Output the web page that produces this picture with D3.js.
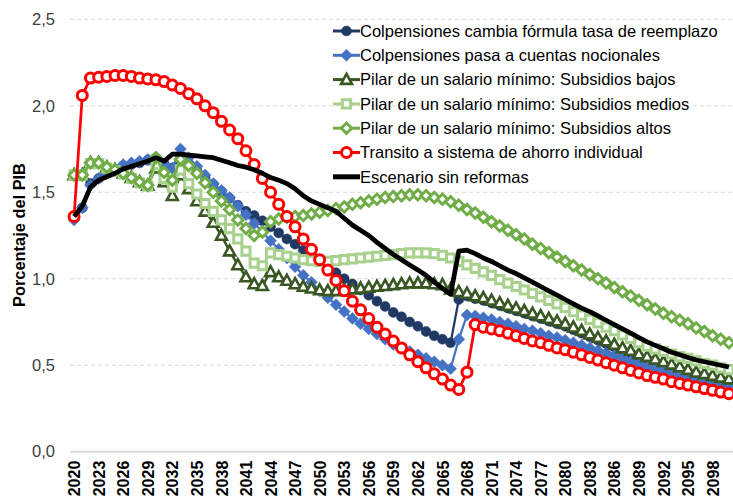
<!DOCTYPE html>
<html>
<head>
<meta charset="utf-8">
<script src="https://cdn.jsdelivr.net/npm/d3@7"></script>
<style>
  body { margin: 0; background: #fff; }
  svg { display: block; font-family: "Liberation Sans", Arial, sans-serif; }
</style>
</head>
<body>
<div id="chart"></div>
<script>
// years on the category axis, 2020 .. 2100
var years = d3.range(2020, 2101);
var xTickYears = [2020, 2023, 2026, 2029, 2032, 2035, 2038, 2041, 2044, 2047, 2050, 2053, 2056,
    2059, 2062, 2065, 2068, 2071, 2074, 2077, 2080, 2083, 2086, 2089, 2092, 2095, 2098];
var yTicks = [0, 0.5, 1, 1.5, 2, 2.5];

// series, % del PIB
var colpFormula = [
    1.35, 1.41, 1.55, 1.58, 1.61, 1.63, 1.65, 1.66, 1.67, 1.685,
    1.70, 1.665, 1.64, 1.70, 1.665, 1.625, 1.585, 1.545, 1.505, 1.465,
    1.425, 1.39, 1.365, 1.335, 1.30, 1.265, 1.23, 1.20, 1.165, 1.13,
    1.10, 1.065, 1.035, 1.00, 0.97, 0.935, 0.905, 0.87, 0.84, 0.805,
    0.78, 0.75, 0.725, 0.695, 0.67, 0.65, 0.63, 0.88, 0.90, 0.885,
    0.875, 0.86, 0.845, 0.83, 0.815, 0.80, 0.785, 0.77, 0.755, 0.74,
    0.725, 0.705, 0.685, 0.665, 0.645, 0.625, 0.605, 0.585, 0.57, 0.55,
    0.535, 0.52, 0.505, 0.49, 0.475, 0.46, 0.445, 0.435, 0.425, 0.415,
    0.405];
var colpNocionales = [
    1.34, 1.41, 1.54, 1.58, 1.61, 1.63, 1.66, 1.67, 1.68, 1.69,
    1.70, 1.66, 1.64, 1.75, 1.70, 1.65, 1.60, 1.55, 1.51, 1.47,
    1.42, 1.37, 1.32, 1.27, 1.22, 1.17, 1.12, 1.07, 1.02, 0.98,
    0.93, 0.89, 0.85, 0.81, 0.77, 0.74, 0.71, 0.68, 0.65, 0.62,
    0.60, 0.58, 0.56, 0.54, 0.52, 0.50, 0.48, 0.65, 0.79, 0.785,
    0.775, 0.765, 0.75, 0.74, 0.725, 0.71, 0.70, 0.685, 0.67, 0.66,
    0.645, 0.63, 0.615, 0.60, 0.585, 0.57, 0.555, 0.54, 0.52, 0.505,
    0.49, 0.48, 0.47, 0.455, 0.445, 0.435, 0.42, 0.41, 0.40, 0.39,
    0.38];
var pilarBajos = [
    1.60, 1.60, 1.67, 1.67, 1.645, 1.63, 1.61, 1.585, 1.56, 1.54,
    1.64, 1.56, 1.48, 1.60, 1.52, 1.45, 1.39, 1.325, 1.25, 1.16,
    1.08, 1.01, 0.97, 0.96, 1.04, 1.01, 0.99, 0.97, 0.955, 0.945,
    0.935, 0.93, 0.93, 0.935, 0.94, 0.945, 0.95, 0.955, 0.96, 0.965,
    0.97, 0.975, 0.975, 0.975, 0.97, 0.965, 0.94, 0.925, 0.915, 0.90,
    0.89, 0.875, 0.86, 0.845, 0.83, 0.815, 0.80, 0.785, 0.77, 0.755,
    0.74, 0.72, 0.70, 0.68, 0.66, 0.64, 0.62, 0.60, 0.585, 0.565,
    0.55, 0.535, 0.52, 0.505, 0.49, 0.475, 0.46, 0.45, 0.44, 0.43,
    0.42];
var pilarMedios = [
    1.60, 1.60, 1.665, 1.665, 1.64, 1.625, 1.605, 1.58, 1.555, 1.535,
    1.66, 1.58, 1.53, 1.63, 1.55, 1.49, 1.435, 1.39, 1.34, 1.29,
    1.23, 1.16, 1.09, 1.075, 1.15, 1.14, 1.13, 1.12, 1.11, 1.105,
    1.10, 1.10, 1.105, 1.11, 1.115, 1.12, 1.125, 1.13, 1.135, 1.14,
    1.145, 1.15, 1.15, 1.15, 1.145, 1.135, 1.12, 1.10, 1.08, 1.06,
    1.04, 1.02, 0.995, 0.975, 0.955, 0.935, 0.915, 0.895, 0.875, 0.855,
    0.835, 0.81, 0.79, 0.765, 0.745, 0.72, 0.70, 0.675, 0.655, 0.63,
    0.61, 0.595, 0.58, 0.565, 0.55, 0.54, 0.525, 0.51, 0.50, 0.485,
    0.475];
var pilarAltos = [
    1.60, 1.60, 1.67, 1.67, 1.645, 1.63, 1.61, 1.585, 1.56, 1.54,
    1.70, 1.615, 1.57, 1.69, 1.655, 1.61, 1.555, 1.50, 1.45, 1.40,
    1.34, 1.29, 1.25, 1.27, 1.33, 1.345, 1.355, 1.36, 1.365, 1.375,
    1.385, 1.395, 1.405, 1.415, 1.43, 1.44, 1.45, 1.46, 1.47, 1.475,
    1.48, 1.485, 1.485, 1.48, 1.47, 1.46, 1.445, 1.425, 1.40, 1.38,
    1.355, 1.33, 1.305, 1.28, 1.255, 1.23, 1.20, 1.175, 1.15, 1.125,
    1.10, 1.075, 1.05, 1.025, 1.00, 0.975, 0.95, 0.925, 0.90, 0.875,
    0.85, 0.825, 0.80, 0.78, 0.76, 0.74, 0.715, 0.695, 0.67, 0.65,
    0.63];
var transito = [
    1.36, 2.06, 2.16, 2.165, 2.17, 2.175, 2.175, 2.17, 2.16, 2.155,
    2.15, 2.14, 2.12, 2.10, 2.07, 2.04, 2.00, 1.96, 1.91, 1.86,
    1.81, 1.74, 1.66, 1.58, 1.50, 1.43, 1.36, 1.30, 1.23, 1.17,
    1.11, 1.05, 0.99, 0.93, 0.87, 0.82, 0.77, 0.72, 0.68, 0.64,
    0.60, 0.56, 0.52, 0.485, 0.45, 0.42, 0.385, 0.36, 0.46, 0.735,
    0.72, 0.71, 0.70, 0.685, 0.67, 0.655, 0.64, 0.63, 0.615, 0.60,
    0.59, 0.575, 0.56, 0.545, 0.53, 0.515, 0.50, 0.485, 0.47, 0.455,
    0.44, 0.43, 0.42, 0.405, 0.395, 0.385, 0.375, 0.365, 0.355, 0.345,
    0.335];
var sinReformas = [
    1.36, 1.42, 1.53, 1.57, 1.59, 1.61, 1.635, 1.65, 1.665, 1.68,
    1.70, 1.68, 1.72, 1.72, 1.715, 1.71, 1.705, 1.70, 1.685, 1.67,
    1.655, 1.645, 1.63, 1.61, 1.585, 1.57, 1.55, 1.52, 1.48, 1.45,
    1.43, 1.41, 1.39, 1.35, 1.31, 1.28, 1.25, 1.21, 1.175, 1.14,
    1.11, 1.08, 1.05, 1.02, 0.98, 0.945, 0.91, 1.16, 1.165, 1.145,
    1.12, 1.10, 1.075, 1.05, 1.03, 1.005, 0.98, 0.955, 0.93, 0.905,
    0.88, 0.855, 0.83, 0.81, 0.785, 0.76, 0.735, 0.71, 0.685, 0.66,
    0.635, 0.615, 0.595, 0.575, 0.56, 0.545, 0.53, 0.52, 0.51, 0.50,
    0.49];

var seriesNames = [
    'Colpensiones cambia fórmula tasa de reemplazo',
    'Colpensiones pasa a cuentas nocionales',
    'Pilar de un salario mínimo: Subsidios bajos',
    'Pilar de un salario mínimo: Subsidios medios',
    'Pilar de un salario mínimo: Subsidios altos',
    'Transito a sistema de ahorro individual',
    'Escenario sin reformas'];

// styles per series
var styles = [
    { color: '#203864', width: 2.25, marker: 'circle', size: 5, fill: '#203864', sw: 0.5 },
    { color: '#4472C4', width: 2.25, marker: 'diamond', size: 6, fill: '#4472C4', sw: 0.5 },
    { color: '#385723', width: 2.5, marker: 'triangle', size: 5.2, fill: '#fff', sw: 2.6 },
    { color: '#A9D18E', width: 2.5, marker: 'square', size: 4.1, fill: '#fff', sw: 3 },
    { color: '#70AD47', width: 2.5, marker: 'diamond', size: 5.2, fill: '#fff', sw: 2.9 },
    { color: '#FF0000', width: 2.75, marker: 'circle', size: 5, fill: '#fff', sw: 3 },
    { color: '#000000', width: 4.75, marker: null }];

var allSeries = [colpFormula, colpNocionales, pilarBajos, pilarMedios, pilarAltos, transito, sinReformas];

var W = 733, H = 499;
var plot = { left: 70, right: 733, top: 19.3, bottom: 451.7 };

var svg = d3.select('#chart').append('svg')
    .attr('width', W)
    .attr('height', H);

var x = d3.scalePoint().domain(years).range([plot.left, plot.right]).padding(0.5);
var y = d3.scaleLinear().domain([0, 2.5]).range([plot.bottom, plot.top]);

var fmt = d3.formatLocale({ decimal: ',', thousands: '.', grouping: [3], currency: ['', ''] }).format('.1f');

// gridlines
svg.append('g').selectAll('line')
    .data(yTicks.filter(function(d) { return d > 0; }))
    .enter().append('line')
    .attr('x1', plot.left).attr('x2', plot.right)
    .attr('y1', function(d) { return y(d); })
    .attr('y2', function(d) { return y(d); })
    .attr('stroke', '#d9d9d9')
    .attr('stroke-width', 1)
    .attr('stroke-dasharray', '4,3');

// y axis (labels only)
var yAxis = svg.append('g')
    .attr('transform', 'translate(' + plot.left + ',0)')
    .call(d3.axisLeft(y).tickValues(yTicks).tickSize(0).tickPadding(15).tickFormat(fmt));
yAxis.select('.domain').remove();
yAxis.selectAll('text')
    .attr('font-size', '16.5px')
    .attr('fill', '#404040')
    .style('font-family', '"Liberation Sans", Arial, sans-serif');

// x axis
var xAxis = svg.append('g')
    .attr('transform', 'translate(0,' + plot.bottom + ')')
    .call(d3.axisBottom(x).tickValues(xTickYears).tickSize(0));
xAxis.select('.domain')
    .attr('d', 'M' + plot.left + ',0H' + plot.right)
    .attr('stroke', '#d9d9d9')
    .attr('stroke-width', 2);
xAxis.selectAll('text')
    .attr('transform', 'rotate(-90)')
    .attr('x', -9)
    .attr('y', 0)
    .attr('dy', '0.35em')
    .attr('text-anchor', 'end')
    .attr('font-size', '16px')
    .attr('font-weight', 'bold')
    .attr('fill', '#000')
    .style('font-family', '"Liberation Sans", Arial, sans-serif');

// y axis title
svg.append('text')
    .attr('transform', 'translate(19,235) rotate(-90)')
    .attr('text-anchor', 'middle')
    .attr('dy', '0.35em')
    .attr('font-size', '16.4px')
    .attr('font-weight', 'bold')
    .text('Porcentaje del PIB');

function markerPath(type, s) {
    if (type === 'circle') {
        return 'M' + (-s) + ',0A' + s + ',' + s + ' 0 1,0 ' + s + ',0A' + s + ',' + s + ' 0 1,0 ' + (-s) + ',0Z';
    }
    if (type === 'diamond') {
        return 'M0,' + (-s) + 'L' + s + ',0L0,' + s + 'L' + (-s) + ',0Z';
    }
    if (type === 'square') {
        return 'M' + (-s) + ',' + (-s) + 'H' + s + 'V' + s + 'H' + (-s) + 'Z';
    }
    if (type === 'triangle') {
        var h = s * 1.1;
        return 'M0,' + (-h) + 'L' + (s * 1.05) + ',' + (h * 0.75) + 'L' + (-s * 1.05) + ',' + (h * 0.75) + 'Z';
    }
    return '';
}

var line = d3.line()
    .x(function(d, i) { return x(years[i]); })
    .y(function(d) { return y(d); });

allSeries.forEach(function(values, k) {
    var st = styles[k];
    var g = svg.append('g');
    g.append('path')
        .datum(values)
        .attr('d', line)
        .attr('fill', 'none')
        .attr('stroke', st.color)
        .attr('stroke-width', st.width)
        .attr('stroke-linejoin', 'round');
    if (st.marker) {
        g.selectAll('path.m')
            .data(values)
            .enter().append('path')
            .attr('class', 'm')
            .attr('transform', function(d, i) { return 'translate(' + x(years[i]) + ',' + y(d) + ')'; })
            .attr('d', markerPath(st.marker, st.size))
            .attr('fill', st.fill)
            .attr('stroke', st.color)
            .attr('stroke-width', st.sw);
    }
});

// legend
var legend = svg.append('g').attr('transform', 'translate(333,31)');
seriesNames.forEach(function(name, k) {
    var st = styles[k];
    var row = legend.append('g').attr('transform', 'translate(0,' + (k * 24.3) + ')');
    row.append('line')
        .attr('x1', 0).attr('x2', 27)
        .attr('stroke', st.color)
        .attr('stroke-width', k === 6 ? 5 : 3);
    if (st.marker) {
        row.append('path')
            .attr('transform', 'translate(13.5,0)')
            .attr('d', markerPath(st.marker, st.size))
            .attr('fill', st.fill)
            .attr('stroke', st.color)
            .attr('stroke-width', st.sw);
    }
    row.append('text')
        .attr('x', 27)
        .attr('dy', '0.35em')
        .attr('font-size', '16.5px')
        .attr('fill', '#000')
        .text(name);
});
</script>
</body>
</html>
